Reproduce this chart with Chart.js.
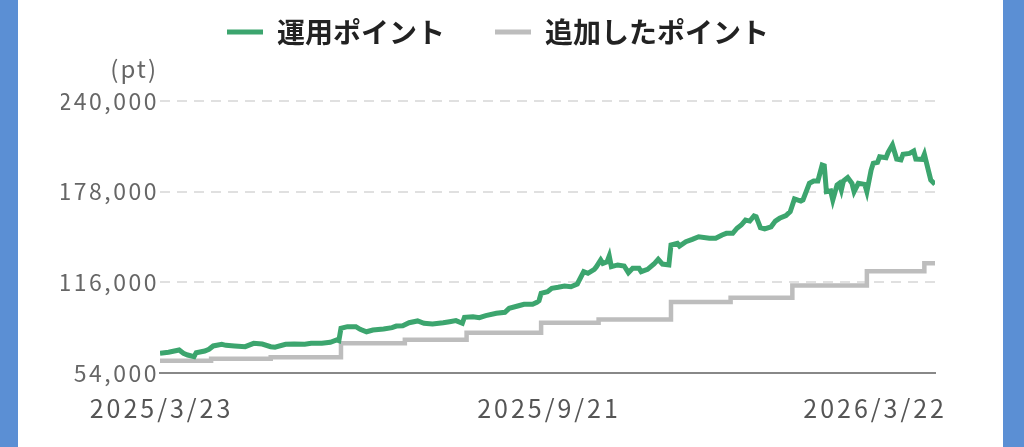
<!DOCTYPE html>
<html lang="ja">
<head>
  <meta charset="UTF-8" />
  <title>運用ポイントの推移</title>
  <style>
    html, body { margin: 0; padding: 0; }
    body { background: #5b8fd4; width: 1024px; height: 447px; overflow: hidden; }
    .panel { position: absolute; left: 18px; top: 0; width: 985px; height: 447px; background: #fff; }
  </style>
  <script src="https://cdn.jsdelivr.net/npm/chart.js@4"></script>
</head>
<body>
  <div class="panel"><canvas id="pointChart"></canvas></div>

  <script>
    // 2025/3/23 からの経過日数
    const seriesNames = ["運用ポイント", "追加したポイント"];

    const investDays = [0, 4, 9, 11, 13, 16, 17, 21, 23, 25, 29, 31, 35, 40, 44, 48, 52, 54, 59, 63, 68, 71, 76, 80, 83, 84,
      85, 88, 92, 94, 97, 100, 105, 109, 111, 114, 117, 121, 124, 128, 133, 136, 139, 142, 143, 147, 150, 153, 158, 162,
      164, 168, 171, 175, 177, 178, 179, 182, 184, 187, 190, 193, 196, 199, 201, 204, 205, 207, 208, 210, 211, 212, 215,
      218, 220, 222, 225, 226, 229, 232, 234, 236, 239, 240, 243, 244, 247, 250, 253, 258, 261, 264, 266, 269, 271, 273,
      275, 277, 279, 280, 282, 284, 287, 289, 291, 294, 296, 298, 301, 302, 305, 307, 309, 311, 312, 313, 315, 316, 318,
      319, 320, 321, 323, 325, 326, 328, 331, 332, 334, 335, 337, 338, 341, 342, 344, 346, 348, 349, 352, 354, 355, 358,
      359, 362, 364];
    const investValues = [67500, 68200, 69700, 67500, 66300, 65200, 67900, 69000, 70200, 72500, 73600, 72900, 72500, 72000,
      74300, 73800, 72000, 71600, 73600, 73800, 73600, 74300, 74300, 75000, 76600, 76100,
      84600, 85700, 85700, 83900, 82200, 83400, 84100, 85000, 86100, 86300, 88400, 89600, 88000, 87500, 88400, 89100,
      89800, 88000, 92100, 92500, 91800, 93200, 94800, 95500,
      98200, 99800, 101000, 101000, 102300, 103400, 108500, 109600, 111900, 112600, 113500, 113000, 114900, 123300,
      122200, 124900, 126700, 131300, 129000, 130100, 134000, 126700, 127900,
      127200, 122600, 125600, 125600, 123300, 124900, 128500, 131800, 128500, 127900, 141500, 142700, 140800, 143800,
      145400, 147200, 146100, 146100, 148400, 149500, 149500, 153000, 155200,
      158600, 157900, 161400, 160900, 153400, 152500, 154000, 157900, 159800, 161600, 164300, 173000, 171600, 172300,
      183700, 185300, 185300, 196200, 195700, 178000, 178500, 172300, 182600,
      183700, 179100, 185300, 187600, 183700, 178000, 183700, 183000, 178000, 192800, 197400, 198100, 201900, 201200,
      204900, 209900, 200300, 199700, 203600, 204200, 205800, 200300, 200100,
      203600, 186000, 183000];

    const addedDays = [0, 24, 52, 85, 115, 144, 179, 206, 240, 268, 297, 332, 359, 364];
    const addedValues = [62400, 63800, 64700, 74300, 76800, 81500, 88400, 90500, 102500, 105500, 113800, 123500, 129000, 129000];

    const yTicks = [54000, 116000, 178000, 240000];
    const xTickDays = [0, 182, 364];
    const xTickLabels = ["2025/3/23", "2025/9/21", "2026/3/22"];

    const fontFamily = '"Noto Sans CJK JP", "Noto Sans", sans-serif';
    const green = "#3ca56e";
    const gray = "#bdbdbd";

    const toPoints = (days, values) => days.map((d, i) => ({ x: d, y: values[i] }));

    // (pt) と日付ラベルはキャンバスに直接描く。y軸の数字は字間を少し広げる
    const axisText = {
      id: "axisText",
      afterDatasetsDraw(chart) {
        chart.ctx.letterSpacing = "2.5px";
      },
      afterDraw(chart) {
        const { ctx, chartArea, scales } = chart;
        ctx.save();
        ctx.fillStyle = "#666";
        ctx.font = `24px ${fontFamily}`;
        ctx.letterSpacing = "2px";
        ctx.textAlign = "right";
        ctx.textBaseline = "middle";
        ctx.fillText("(pt)", chartArea.left - 2, chartArea.top - 32);

        ctx.font = `25px ${fontFamily}`;
        ctx.fillStyle = "#555";
        ctx.letterSpacing = "3px";
        xTickDays.forEach((d, i) => {
          const px = scales.x.getPixelForValue(d);
          const last = i === xTickDays.length - 1;
          ctx.textAlign = last ? "right" : "center";
          ctx.fillText(xTickLabels[i], last ? px + 12 : px + 1.5, chartArea.bottom + 35);
        });
        ctx.restore();
        ctx.letterSpacing = "0px";
      },
    };

    new Chart(document.getElementById("pointChart"), {
      type: "line",
      data: {
        datasets: [
          {
            label: seriesNames[0],
            data: toPoints(investDays, investValues),
            borderColor: green,
            backgroundColor: green,
            borderWidth: 5,
            pointRadius: 0,
            tension: 0,
          },
          {
            label: seriesNames[1],
            data: toPoints(addedDays, addedValues),
            borderColor: gray,
            backgroundColor: gray,
            borderWidth: 4.5,
            pointRadius: 0,
            stepped: true,
          },
        ],
      },
      options: {
        responsive: true,
        maintainAspectRatio: false,
        animation: false,
        layout: { padding: { left: 43, right: 68, top: -32, bottom: 74 } },
        plugins: {
          tooltip: { enabled: false },
          legend: {
            position: "top",
            labels: {
              boxWidth: 36,
              boxHeight: 5,
              padding: 50,
              color: "#222",
              font: { family: fontFamily, size: 28, weight: "bold" },
              generateLabels: (chart) =>
                Chart.defaults.plugins.legend.labels.generateLabels(chart).map((l) => ({ ...l, lineWidth: 0 })),
            },
          },
        },
        scales: {
          x: {
            type: "linear",
            min: 0,
            max: 364,
            ticks: { display: false },
            grid: { display: false, drawTicks: false },
            border: { display: true, color: "#888", width: 2 },
          },
          // 凡例とグラフの間の余白 ((pt) の行)
          gap: {
            type: "linear",
            position: "top",
            ticks: { display: false },
            grid: { display: false, drawTicks: false },
            border: { display: false },
            afterFit: (scale) => {
              scale.height = 45;
            },
          },
          y: {
            min: 54000,
            max: 240000,
            afterBuildTicks: (scale) => {
              scale.ticks = yTicks.map((v) => ({ value: v }));
            },
            afterFit: (scale) => {
              scale.width = 99;
            },
            ticks: {
              z: 1,
              padding: 1,
              color: "#666",
              font: { family: fontFamily, size: 23 },
              callback: (value) => value.toLocaleString("en-US"),
            },
            grid: { color: "#e0e0e0", lineWidth: 2, drawTicks: false },
            border: { display: false, dash: [10, 7] },
          },
        },
      },
      plugins: [axisText],
    });
  </script>
</body>
</html>
